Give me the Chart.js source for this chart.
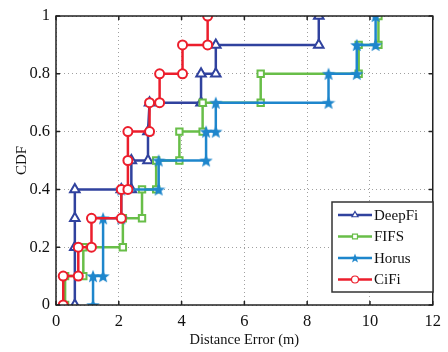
<!DOCTYPE html>
<html>
<head>
<meta charset="utf-8">
<script src="https://cdn.jsdelivr.net/npm/chart.js@4.4.0/dist/chart.umd.min.js"></script>
<style>
  html, body { margin: 0; padding: 0; background: #fff; }
  canvas { display: block; }
</style>
</head>
<body>
<canvas id="cdfChart" width="448" height="352"></canvas>
<script>
// step corners of each CDF curve
var deepfiX = [0.6, 0.6, 0.6, 0.6, 2.08, 2.4, 2.4, 2.93, 2.93, 2.98, 4.62, 4.62, 5.09, 5.09, 8.37, 8.37];
var deepfiY = [0, 0.2, 0.3, 0.4, 0.4, 0.4, 0.5, 0.5, 0.6, 0.7, 0.7, 0.8, 0.8, 0.9, 0.9, 1];

var fifsX = [0.29, 0.29, 0.87, 0.87, 2.13, 2.13, 2.74, 2.74, 3.19, 3.19, 3.93, 3.93, 4.67, 4.67, 6.52, 6.52, 9.64, 9.64, 10.27, 10.27];
var fifsY = [0, 0.1, 0.1, 0.2, 0.2, 0.3, 0.3, 0.4, 0.4, 0.5, 0.5, 0.6, 0.6, 0.7, 0.7, 0.8, 0.8, 0.9, 0.9, 1];

var horusX = [1.18, 1.18, 1.5, 1.5, 2.08, 2.08, 3.27, 3.27, 4.78, 4.78, 5.09, 5.09, 8.68, 8.68, 9.58, 9.58, 10.18, 10.18];
var horusY = [0, 0.1, 0.1, 0.3, 0.3, 0.4, 0.4, 0.5, 0.5, 0.6, 0.6, 0.7, 0.7, 0.8, 0.8, 0.9, 0.9, 1];

var cifiX = [0.23, 0.23, 0.71, 0.71, 1.13, 1.13, 2.08, 2.08, 2.29, 2.29, 2.29, 2.98, 2.98, 3.3, 3.3, 4.03, 4.03, 4.83, 4.83];
var cifiY = [0, 0.1, 0.1, 0.2, 0.2, 0.3, 0.3, 0.4, 0.4, 0.5, 0.6, 0.6, 0.7, 0.7, 0.8, 0.8, 0.9, 0.9, 1];

var xTicks = [0, 2, 4, 6, 8, 10, 12];
var yTicks = [0, 0.2, 0.4, 0.6, 0.8, 1];

var blueDark = "rgb(48, 66, 158)";
var green = "rgb(104, 190, 72)";
var blueLight = "rgb(30, 134, 204)";
var red = "rgb(236, 30, 44)";

function toPoints(xs, ys) {
    return xs.map(function (x, i) { return {x: x, y: ys[i]}; });
}

// filled five point star as a point image
function starImage(size, color) {
    var c = document.createElement("canvas");
    c.width = size;
    c.height = size;
    var g = c.getContext("2d");
    var cx = size / 2, cy = size / 2 + size * 0.05;
    var ro = size / 2, ri = ro * 0.42;
    g.beginPath();
    for (var i = 0; i < 10; i++) {
        var r = i % 2 === 0 ? ro : ri;
        var a = -Math.PI / 2 + i * Math.PI / 5;
        g.lineTo(cx + r * Math.cos(a), cy + r * Math.sin(a));
    }
    g.closePath();
    g.fillStyle = color;
    g.fill();
    return c;
}

var starBig = starImage(14, blueLight);
var starSmall = starImage(10, blueLight);

var datasets = [{
    label: "DeepFi",
    data: toPoints(deepfiX, deepfiY),
    borderColor: blueDark,
    backgroundColor: "#fff",
    pointStyle: "triangle",
    pointRadius: 5.5,
    pointBorderWidth: 2,
    order: 3
}, {
    label: "FIFS",
    data: toPoints(fifsX, fifsY),
    borderColor: green,
    backgroundColor: "#fff",
    pointStyle: "rect",
    pointRadius: 4.5,
    pointBorderWidth: 2,
    order: 2
}, {
    label: "Horus",
    data: toPoints(horusX, horusY),
    borderColor: blueLight,
    backgroundColor: blueLight,
    pointStyle: starBig,
    pointRadius: 7,
    pointBorderWidth: 0,
    order: 1
}, {
    label: "CiFi",
    data: toPoints(cifiX, cifiY),
    borderColor: red,
    backgroundColor: "#fff",
    pointStyle: "circle",
    pointRadius: 4.5,
    pointBorderWidth: 2,
    order: 0
}];

datasets.forEach(function (d) {
    d.showLine = true;
    d.borderWidth = 2.5;
    d.pointBackgroundColor = d.backgroundColor;
    d.pointBorderColor = d.borderColor;
    d.pointHoverRadius = d.pointRadius;
});

// box with inward tick marks, like the matlab axes
var boxPlugin = {
    id: "box",
    afterDatasetsDraw: function (chart) {
        var ctx = chart.ctx, a = chart.chartArea;
        var xs = chart.scales.x, ys = chart.scales.y;
        ctx.save();
        ctx.strokeStyle = "#222";
        ctx.lineWidth = 1.5;
        ctx.strokeRect(a.left, a.top, a.right - a.left, a.bottom - a.top);
        ctx.beginPath();
        xTicks.forEach(function (t) {
            var px = xs.getPixelForValue(t);
            ctx.moveTo(px, a.bottom); ctx.lineTo(px, a.bottom - 4);
            ctx.moveTo(px, a.top); ctx.lineTo(px, a.top + 4);
        });
        yTicks.forEach(function (t) {
            var py = ys.getPixelForValue(t);
            ctx.moveTo(a.left, py); ctx.lineTo(a.left + 4, py);
            ctx.moveTo(a.right, py); ctx.lineTo(a.right - 4, py);
        });
        ctx.stroke();
        ctx.restore();
    }
};

// legend drawn inside the lower right of the plot
var legendPlugin = {
    id: "insideLegend",
    afterDraw: function (chart) {
        var ctx = chart.ctx;
        var x0 = 332, y0 = 202, w = 101, h = 90;
        ctx.save();
        ctx.fillStyle = "#fff";
        ctx.fillRect(x0, y0, w, h);
        ctx.strokeStyle = "#333";
        ctx.lineWidth = 1.5;
        ctx.strokeRect(x0, y0, w, h);
        ctx.font = "15px 'Liberation Serif', 'DejaVu Serif', serif";
        ctx.textBaseline = "middle";
        chart.data.datasets.forEach(function (d, i) {
            var y = y0 + 13 + i * 21.5;
            ctx.strokeStyle = d.borderColor;
            ctx.lineWidth = 2.5;
            ctx.beginPath();
            ctx.moveTo(x0 + 6, y);
            ctx.lineTo(x0 + 40, y);
            ctx.stroke();
            var style = d.pointStyle === starBig ? starSmall : d.pointStyle;
            ctx.fillStyle = d.pointBackgroundColor;
            ctx.strokeStyle = d.borderColor;
            ctx.lineWidth = 1.2;
            Chart.helpers.drawPoint(ctx, {
                pointStyle: style,
                radius: 3.5,
                rotation: 0,
                borderWidth: 1.2
            }, x0 + 23, y);
            ctx.fillStyle = "#111";
            ctx.fillText(d.label, x0 + 42, y + 1);
        });
        ctx.restore();
    }
};

var serif = "'Liberation Serif', 'DejaVu Serif', serif";

var ctxCdf = document.getElementById("cdfChart");

var cdfChart = new Chart(ctxCdf, {
    type: "scatter",
    data: {datasets: datasets},
    plugins: [boxPlugin, legendPlugin],
    options: {
        responsive: false,
        animation: false,
        layout: {padding: {left: 0, right: 13, top: 16, bottom: 0}},
        plugins: {
            legend: {display: false},
            tooltip: {enabled: false}
        },
        scales: {
            x: {
                type: "linear",
                min: 0,
                max: 12,
                afterBuildTicks: function (s) {
                    s.ticks = xTicks.map(function (v) { return {value: v}; });
                },
                afterFit: function (s) { s.height = 47; },
                grid: {color: "#a0a0a0", lineWidth: 1, drawTicks: false},
                border: {display: false, dash: [1, 3]},
                ticks: {
                    color: "#111",
                    padding: 7,
                    font: {family: serif, size: 16.5},
                    maxRotation: 0
                },
                title: {
                    display: true,
                    text: "Distance Error (m)",
                    color: "#111",
                    padding: {top: 0, bottom: 3},
                    font: {family: serif, size: 14.5}
                }
            },
            y: {
                type: "linear",
                min: 0,
                max: 1,
                afterBuildTicks: function (s) {
                    s.ticks = yTicks.map(function (v) { return {value: v}; });
                },
                afterFit: function (s) { s.width = 56; },
                grid: {color: "#a0a0a0", lineWidth: 1, drawTicks: false},
                border: {display: false, dash: [1, 3]},
                ticks: {
                    color: "#111",
                    padding: 6,
                    font: {family: serif, size: 16.5},
                    callback: function (v) { return String(Number(v.toFixed(1))); }
                },
                title: {
                    display: true,
                    text: "CDF",
                    color: "#111",
                    padding: {top: 13, bottom: 0},
                    font: {family: serif, size: 15}
                }
            }
        }
    }
});
</script>
</body>
</html>
